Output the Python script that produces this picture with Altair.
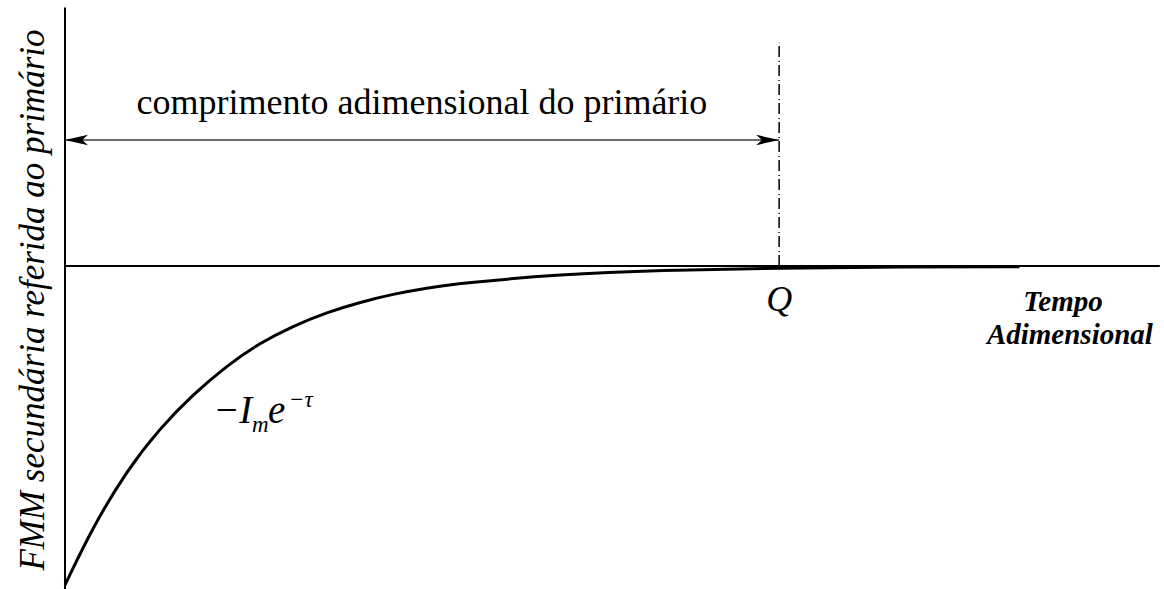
import altair as alt
import pandas as pd

# Secondary MMF (referred to the primary) versus dimensionless time
tau = [0.0, 0.21, 0.46, 0.70, 0.95, 1.20, 1.44, 1.69, 1.94, 2.19, 2.43, 2.68,
       2.93, 3.67, 4.41, 5.30, 6.19, 7.07]
mmf = [-1.0, -0.815, -0.640, -0.510, -0.402, -0.312, -0.242, -0.188, -0.145,
       -0.113, -0.088, -0.069, -0.054, -0.026, -0.013, -0.006, -0.003, -0.002]

q_pos = 5.29          # dimensionless length of the primary
x_end = 8.11          # end of the time axis
y_top = 0.81          # top of the MMF axis
span_y = 0.395        # height of the double arrow
dash_top = 0.70       # top of the dash-dot marker at Q

x_dom = [-0.4815, 8.141]
y_dom = [-1.0125, 0.8339]

X = alt.X("x:Q", scale=alt.Scale(domain=x_dom, nice=False, zero=False), axis=None)
Y = alt.Y("y:Q", scale=alt.Scale(domain=y_dom, nice=False, zero=False), axis=None)

curve_df = pd.DataFrame({"x": tau, "y": mmf})
curve = alt.Chart(curve_df).mark_line(
    color="black", strokeWidth=3, interpolate="basis"
).encode(x=X, y=Y)

axes_df = pd.DataFrame({
    "x": [0.0, 0.0], "x2": [0.0, x_end],
    "y": [y_dom[0], 0.0], "y2": [y_top, 0.0],
})
axes = alt.Chart(axes_df).mark_rule(color="black", strokeWidth=2).encode(
    x=X, x2="x2:Q", y=Y, y2="y2:Q"
)

dash_df = pd.DataFrame({"x": [q_pos], "y": [0.0], "y2": [dash_top]})
dash = alt.Chart(dash_df).mark_rule(
    color="black", strokeWidth=1.5, strokeDash=[11, 3, 1, 4]
).encode(x=X, y=Y, y2="y2:Q")

arrow_df = pd.DataFrame({"x": [0.0], "x2": [q_pos], "y": [span_y]})
arrow_line = alt.Chart(arrow_df).mark_rule(color="#3a3a3a", strokeWidth=1.5).encode(
    x=X, x2="x2:Q", y=Y
)

head_left = alt.Chart(pd.DataFrame({"x": [0.0], "y": [span_y]})).mark_point(
    shape="M0,0L2,-0.45L1.5,0L2,0.45Z", size=529, filled=True,
    color="black", opacity=1, strokeWidth=0
).encode(x=X, y=Y)
head_right = alt.Chart(pd.DataFrame({"x": [q_pos], "y": [span_y]})).mark_point(
    shape="M0,0L-2,-0.45L-1.5,0L-2,0.45Z", size=529, filled=True,
    color="black", opacity=1, strokeWidth=0
).encode(x=X, y=Y)

serif = "Liberation Serif"

caption = alt.Chart(pd.DataFrame({
    "x": [2.644], "y": [0.4765], "t": ["comprimento adimensional do primário"]
})).mark_text(font=serif, fontSize=36, align="center", baseline="alphabetic",
              color="black").encode(x=X, y=Y, text="t:N")

q_label = alt.Chart(pd.DataFrame({"x": [q_pos], "y": [-0.1066], "t": ["Q"]})).mark_text(
    font=serif, fontSize=36, fontStyle="italic", align="center", baseline="middle",
    color="black").encode(x=X, y=Y, text="t:N")

time_title = alt.Chart(pd.DataFrame({
    "x": [7.393, 7.444], "y": [-0.113, -0.216], "t": ["Tempo", "Adimensional"]
})).mark_text(font=serif, fontSize=29, fontStyle="italic", fontWeight="bold",
              align="center", baseline="middle", color="black").encode(x=X, y=Y, text="t:N")

mmf_title = alt.Chart(pd.DataFrame({
    "x": [-0.237], "y": [-0.1066], "t": ["FMM secundária referida ao primário"]
})).mark_text(font=serif, fontSize=35, fontStyle="italic",
              angle=270, align="center", baseline="middle", color="black").encode(
    x=X, y=Y, text="t:N")

# -I_m e^{-tau}
big = alt.Chart(pd.DataFrame({
    "x": [1.096, 1.504], "y": [-0.492, -0.492], "t": ["\u2212I", "e"]
})).mark_text(font=serif, fontSize=39, fontStyle="italic", align="left",
              baseline="alphabetic", color="black").encode(x=X, y=Y, text="t:N")
small = alt.Chart(pd.DataFrame({
    "x": [1.385, 1.659], "y": [-0.520, -0.442], "t": ["m", "\u2212\u03c4"]
})).mark_text(font=serif, fontSize=23, fontStyle="italic", align="left",
              baseline="alphabetic", color="black").encode(x=X, y=Y, text="t:N")

chart = alt.layer(
    axes, dash, arrow_line, head_left, head_right, curve,
    caption, q_label, time_title, mmf_title, big, small
).properties(
    width=1164, height=589, padding=0, autosize=alt.AutoSizeParams(type="none"),
    background="white"
).configure_view(stroke=None)

chart.save("out.html", embed_options={"renderer": "svg", "actions": False})
